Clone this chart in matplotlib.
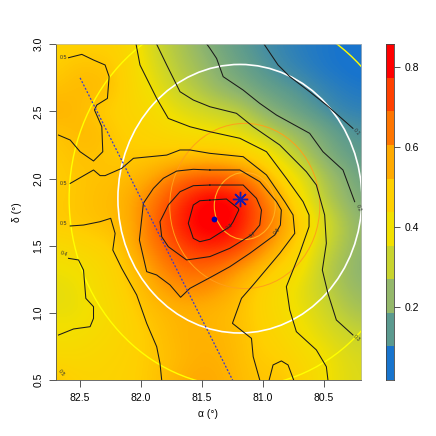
#Recreates the alpha/delta map with contours, rings and colour bar
import matplotlib
matplotlib.use("Agg")
import matplotlib.pyplot as plt
import numpy as np
from matplotlib.colors import LinearSegmentedColormap, ListedColormap
from matplotlib.patches import Ellipse

plt.rcParams['font.family'] = ['Liberation Sans', 'DejaVu Sans']

#Map values, rows from delta 3.0 down to 0.5
alpha_grid = [82.70, 82.53, 82.37, 82.20, 82.03, 81.87, 81.70, 81.53, 81.37, 81.20, 81.03, 80.87, 80.70, 80.53, 80.37, 80.20]
delta_grid = [3.00, 2.83, 2.67, 2.50, 2.33, 2.17, 2.00, 1.83, 1.67, 1.50, 1.33, 1.17, 1.00, 0.83, 0.67, 0.50]
field = [
    [.47, .47, .47, .47, .41, .31, .27, .22, .18, .15, .12, .10, .08, .07, .06, .05],
    [.48, .51, .51, .49, .42, .34, .28, .25, .20, .17, .14, .11, .09, .07, .06, .05],
    [.51, .53, .53, .50, .43, .37, .31, .27, .23, .20, .17, .15, .13, .10, .08, .07],
    [.55, .53, .49, .47, .45, .42, .37, .34, .31, .29, .23, .19, .16, .13, .10, .09],
    [.50, .53, .53, .49, .47, .45, .43, .41, .40, .37, .32, .27, .23, .19, .15, .13],
    [.49, .51, .51, .49, .49, .50, .51, .52, .52, .50, .45, .37, .28, .22, .17, .15],
    [.48, .50, .51, .52, .54, .59, .66, .69, .69, .66, .59, .47, .38, .28, .22, .17],
    [.49, .50, .52, .53, .59, .66, .74, .81, .84, .80, .68, .57, .42, .30, .24, .19],
    [.49, .50, .51, .53, .58, .69, .77, .83, .85, .79, .69, .60, .50, .37, .28, .22],
    [.43, .45, .47, .49, .59, .65, .72, .77, .77, .74, .64, .55, .46, .34, .27, .22],
    [.39, .40, .43, .47, .53, .61, .66, .67, .65, .59, .53, .47, .42, .30, .25, .21],
    [.37, .38, .42, .46, .51, .56, .60, .61, .58, .53, .47, .42, .37, .31, .26, .23],
    [.38, .38, .41, .44, .49, .52, .54, .54, .53, .51, .47, .43, .39, .34, .29, .26],
    [.41, .41, .43, .45, .47, .51, .54, .55, .54, .52, .48, .45, .41, .37, .33, .31],
    [.44, .44, .45, .46, .48, .50, .53, .55, .55, .52, .49, .48, .44, .41, .37, .34],
    [.51, .47, .46, .47, .48, .51, .55, .57, .56, .53, .50, .51, .47, .41, .37, .35],
]

#Contour lines as (alpha, delta) points
line_01 = [(80.991, 3.0), (80.877, 2.846), (80.781, 2.759), (80.618, 2.647), (80.481, 2.548), (80.263, 2.374)]
line_02 = [(81.46, 3.0), (81.436, 2.970), (81.381, 2.895), (81.327, 2.759), (81.163, 2.659), (81.027, 2.560), (80.890, 2.473),
           (80.618, 2.337), (80.509, 2.200), (80.345, 2.064), (80.249, 1.828)]
line_03 = [(81.872, 3.0), (81.790, 2.846), (81.681, 2.647), (81.572, 2.585), (81.436, 2.535), (81.218, 2.486), (81.081, 2.386),
           (80.863, 2.250), (80.645, 2.051), (80.563, 1.952), (80.495, 1.729), (80.481, 1.518), (80.514, 1.319), (80.468, 1.145),
           (80.399, 0.947), (80.263, 0.835)]
line_04 = [(82.041, 3.0), (82.009, 2.846), (81.872, 2.597), (81.777, 2.448), (81.599, 2.386), (81.436, 2.349), (81.190, 2.300),
           (80.972, 2.200), (80.809, 2.002), (80.672, 1.828), (80.623, 1.729), (80.623, 1.642), (80.700, 1.443), (80.809, 1.195),
           (80.781, 1.021), (80.727, 0.860), (80.563, 0.724), (80.481, 0.599), (80.468, 0.5)]
line_04b = [(82.595, 1.406), (82.513, 1.394), (82.472, 1.319), (82.453, 1.108), (82.390, 1.046), (82.390, 0.959), (82.418, 0.897),
            (82.554, 0.880), (82.677, 0.835)]
line_05 = [(82.581, 1.964), (82.390, 2.064), (82.336, 2.022), (82.295, 2.022), (82.159, 2.076), (82.063, 2.151), (81.790, 2.175),
           (81.681, 2.213), (81.599, 2.213), (81.436, 2.188), (81.163, 2.163), (80.972, 2.027), (80.822, 1.828), (80.754, 1.729),
           (80.740, 1.592), (80.863, 1.443), (81.081, 1.208), (81.177, 1.108), (81.251, 0.922), (81.095, 0.810), (81.081, 0.674),
           (81.027, 0.5)]
line_05b = [(82.581, 1.647), (82.472, 1.654), (82.336, 1.679), (82.249, 1.704), (82.213, 1.592), (82.232, 1.468), (82.159, 1.332),
            (82.036, 1.133), (81.954, 0.922), (81.872, 0.748), (81.845, 0.624), (81.831, 0.5)]
line_05c = [(82.595, 2.900), (82.486, 2.925), (82.390, 2.883), (82.295, 2.846), (82.262, 2.759), (82.276, 2.597), (82.363, 2.548),
            (82.382, 2.511), (82.322, 2.386), (82.314, 2.200), (82.390, 2.131), (82.500, 2.200), (82.581, 2.287), (82.677, 2.324)]
line_05d = [(80.950, 0.5), (80.918, 0.612), (80.850, 0.642), (80.795, 0.612), (80.749, 0.5)]
line_06 = [(81.436, 2.064), (81.572, 2.069), (81.708, 2.056), (81.818, 2.002), (81.899, 1.927), (81.981, 1.816), (82.014, 1.543),
           (81.954, 1.307), (81.872, 1.282), (81.763, 1.208), (81.676, 1.116), (81.599, 1.183), (81.436, 1.262), (81.272, 1.344),
           (81.109, 1.443), (80.904, 1.580), (80.858, 1.654), (80.850, 1.766), (80.890, 1.828), (81.027, 1.977), (81.190, 2.064),
           (81.436, 2.064)]
line_07 = [(81.436, 1.952), (81.572, 1.947), (81.681, 1.902), (81.777, 1.803), (81.845, 1.679), (81.831, 1.567), (81.777, 1.493),
           (81.627, 1.394), (81.436, 1.419), (81.272, 1.481), (81.095, 1.580), (81.027, 1.654), (81.013, 1.766), (81.054, 1.853),
           (81.163, 1.952), (81.436, 1.952)]
line_08 = [(81.436, 1.840), (81.518, 1.835), (81.572, 1.803), (81.613, 1.667), (81.572, 1.555), (81.518, 1.530), (81.436, 1.548),
           (81.272, 1.642), (81.245, 1.679), (81.199, 1.766), (81.204, 1.778), (81.300, 1.848), (81.436, 1.840)]
contour_lines = [line_01, line_02, line_03, line_04, line_04b, line_05, line_05b, line_05c, line_05d, line_06, line_07, line_08]

#Small contour labels: text, alpha, delta, rotation
label_text = ["0.5", "0.5", "0.5", "0.4", "0.5", "0.1", "0.2", "0.3", "0.8", "0.7", "0.6"]
label_alpha = [82.636, 82.636, 82.636, 82.636, 82.65, 80.233, 80.22, 80.236, 81.272, 81.087, 80.882]
label_delta = [2.90, 1.964, 1.662, 1.443, 0.55, 2.349, 1.78, 0.81, 1.642, 1.58, 1.605]
label_rot = [0, 0, 0, -20, -50, -50, -70, -40, 40, 35, 50]

#Rings: centre alpha, centre delta, radius, colour
ring_alpha = [81.19, 81.19, 81.15, 81.15]
ring_delta = [1.85, 1.85, 1.796, 1.796]
ring_radius = [1.0, 1.4, 0.615, 0.25]
ring_color = ['white', '#FFFF00', '#FF9F1A', '#FFB020']
ring_width = [1.2, 1.0, 0.7, 0.8]

dash_alpha = [82.5, 81.25]
dash_delta = [2.75, 0.5]
dot_alpha, dot_delta = 81.40, 1.70
star_alpha, star_delta = 81.19, 1.85

bar_colors = ['#1874CD', '#5B9A8F', '#94B86A', '#C8D42E', '#F2E000', '#FFD000', '#FFAA00', '#FF7500', '#FF4000', '#FF0000']
bar_ticks = [0.2, 0.4, 0.6, 0.8]
vmin, vmax = 0.0175, 0.8575

smooth = [(0.0, bar_colors[0])]
for i in range(10):
    smooth.append(((i + 0.5) / 10, bar_colors[i]))
smooth.append((1.0, bar_colors[-1]))
cmap = LinearSegmentedColormap.from_list("map", smooth, N=256)

fig = plt.figure(figsize=(4.36, 4.36), dpi=100)
ax = fig.add_axes([55.7 / 436, 56 / 436, 305.3 / 436, 335.7 / 436])

#Half a cell beyond the first and last grid centres
da = (alpha_grid[0] - alpha_grid[-1]) / (len(alpha_grid) - 1) / 2
dd = (delta_grid[0] - delta_grid[-1]) / (len(delta_grid) - 1) / 2
ax.imshow(field, cmap=cmap, vmin=vmin, vmax=vmax, interpolation='bicubic', aspect='auto',
          extent=(alpha_grid[0] + da, alpha_grid[-1] - da, delta_grid[-1] - dd, delta_grid[0] + dd))

for line in contour_lines:
    xs, ys = zip(*line)
    ax.plot(xs, ys, color='#1a1a1a', lw=0.75, solid_joinstyle='round')

for i in range(len(label_text)):
    ax.text(label_alpha[i], label_delta[i], label_text[i], fontsize=3.8, color='#333333', rotation=label_rot[i],
            ha='center', va='center')

for i in range(len(ring_radius)):
    ax.add_patch(Ellipse((ring_alpha[i], ring_delta[i]), 2 * ring_radius[i], 2 * ring_radius[i], fill=False,
                         edgecolor=ring_color[i], lw=ring_width[i]))

ax.plot(dash_alpha, dash_delta, color='#3b3bd0', lw=0.9, ls=(0, (1.6, 1.4)))
ax.plot(dot_alpha, dot_delta, 'o', color='#0000B0', ms=4.2, mec='none')
ax.plot(star_alpha, star_delta, marker=(8, 2, 0), color='#1a1aa8', ms=11, mew=1.0)

ax.set_xlim(82.70, 80.197)
ax.set_ylim(0.5, 3.0)
ax.set_xticks([82.5, 82.0, 81.5, 81.0, 80.5])
ax.set_xticklabels(["82.5", "82.0", "81.5", "81.0", "80.5"])
ax.set_yticks([0.5, 1.0, 1.5, 2.0, 2.5, 3.0])
ax.set_yticklabels(["0.5", "1.0", "1.5", "2.0", "2.5", "3.0"], rotation=90, va='center')
ax.tick_params(labelsize=7.5, length=5, width=0.7, color='#555555', pad=4)
ax.set_xlabel("α (°)", fontsize=7.5, labelpad=5)
ax.set_ylabel("δ (°)", fontsize=7.5, labelpad=8)
for side in ['left', 'bottom']:
    ax.spines[side].set_linewidth(0.6)
    ax.spines[side].set_color('#555555')
for side in ['top', 'right']:
    ax.spines[side].set_linewidth(0.5)
    ax.spines[side].set_color('#bbbbbb')

#Colour bar with its ten steps
cax = fig.add_axes([385.7 / 436, 56 / 436, 8.6 / 436, 335.7 / 436])
edges = np.linspace(vmin, vmax, 11)
cax.pcolormesh([0, 1], edges, np.arange(10).reshape(10, 1), cmap=ListedColormap(bar_colors))
cax.set_xticks([])
cax.set_ylim(vmin, vmax)
cax.yaxis.tick_right()
cax.set_yticks(bar_ticks)
cax.set_yticklabels(["0.2", "0.4", "0.6", "0.8"])
cax.tick_params(labelsize=7.5, length=4.5, width=0.6, color='#333333', pad=3)
for side in cax.spines:
    cax.spines[side].set_linewidth(0.6)
    cax.spines[side].set_color('#444444')

fig.savefig("out.png", dpi=100)
